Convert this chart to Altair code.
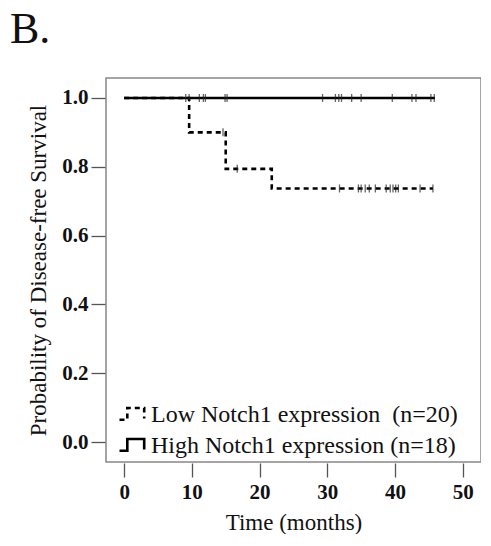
import altair as alt
import pandas as pd

# ---- data ----
panel_label = ["B."]
low_label = "Low Notch1 expression\u00a0 (n=20)"
high_label = "High Notch1 expression (n=18)"

# step curves (time in months, survival probability)
low_times = [0, 9.6, 15.0, 21.8, 45.6]
low_surv = [1.0, 0.9, 0.794, 0.737, 0.737]
high_times = [0, 45.9]
high_surv = [1.0, 1.0]

# censoring marks (time in months)
low_censor = [14.6, 16.7, 31.8, 34.6, 35.0, 35.6, 36.2, 37.1, 38.7, 39.3, 39.7, 40.1, 40.5, 43.7, 45.6]
high_censor = [9.1, 9.6, 11.1, 11.7, 12.0, 14.9, 15.2, 29.3, 31.2, 31.7, 32.1, 33.6, 35.0,
               39.6, 42.5, 43.1, 45.3, 45.8]

x_ticks = [0, 10, 20, 30, 40, 50]
y_ticks = [0.0, 0.2, 0.4, 0.6, 0.8, 1.0]


def level_at(times, surv, t):
    s = surv[0]
    for ti, si in zip(times, surv):
        if ti <= t:
            s = si
    return s


curve_rows = []
for t, s in zip(low_times, low_surv):
    curve_rows.append({"group": low_label, "time": t, "surv": s})
for t, s in zip(high_times, high_surv):
    curve_rows.append({"group": high_label, "time": t, "surv": s})
curves = pd.DataFrame(curve_rows)

cens_rows = []
for t in low_censor:
    cens_rows.append({"group": low_label, "time": t, "surv": level_at(low_times, low_surv, t)})
for t in high_censor:
    cens_rows.append({"group": high_label, "time": t, "surv": level_at(high_times, high_surv, t)})
cens = pd.DataFrame(cens_rows)

FONT = "Liberation Serif"

xscale = alt.Scale(domain=[-2.68, 52.7], nice=False, zero=False)
yscale = alt.Scale(domain=[-0.058, 1.058], nice=False, zero=False)

x_enc = alt.X("time:Q", scale=xscale,
              axis=alt.Axis(title="Time (months)", values=x_ticks, format="d",
                            domain=False, grid=False, tickSize=14, tickWidth=1.3,
                            tickColor="#555", offset=1, labelFont=FONT, labelFontSize=21,
                            labelFontWeight="bold", labelColor="#111", labelPadding=4,
                            titleFont=FONT, titleFontSize=23, titleFontWeight="normal",
                            titleColor="#111", titlePadding=9))
y_enc = alt.Y("surv:Q", scale=yscale,
              axis=alt.Axis(title="Probability of Disease-free Survival", values=y_ticks,
                            format=".1f", domain=False, grid=False, tickSize=14,
                            tickWidth=1.3, tickColor="#555", offset=1, labelFont=FONT,
                            labelFontSize=21, labelFontWeight="bold", labelColor="#111",
                            labelPadding=3, titleFont=FONT, titleFontSize=23,
                            titleFontWeight="normal", titleColor="#111", titlePadding=11))

lines = alt.Chart(curves).mark_line(interpolate="step-after", color="black",
                                    strokeWidth=2.6).encode(
    x=x_enc,
    y=y_enc,
    strokeDash=alt.StrokeDash(
        "group:N",
        scale=alt.Scale(domain=[low_label, high_label], range=[[5, 4], [1, 0]]),
        legend=alt.Legend(title=None, orient="none", legendX=12, legendY=322,
                          symbolType="M-1,0.4H-0.4V-0.5H0.9V0.3", symbolSize=676,
                          symbolStrokeWidth=2.6, symbolStrokeColor="black",
                          labelFont=FONT, labelFontSize=24, labelColor="#111",
                          labelLimit=0, rowPadding=4, labelOffset=4, padding=0),
    ),
    order="time:Q",
)

ticks = alt.Chart(cens).mark_tick(orient="vertical", color="#222", thickness=1.3,
                                  size=8).encode(
    x=alt.X("time:Q", scale=xscale),
    y=alt.Y("surv:Q", scale=yscale),
)

panel = alt.Chart(pd.DataFrame({"label": panel_label})).mark_text(
    font=FONT, fontSize=44, color="#111", align="left", baseline="top"
).encode(x=alt.value(-96), y=alt.value(-70), text="label:N")

chart = (
    alt.layer(lines, ticks, panel)
    .properties(
        width=375,
        height=384,
        padding={"left": 2, "top": 0, "right": 0, "bottom": 0},
        background="white",
    )
    .configure_view(stroke="#888", strokeWidth=1.5)
)

chart.save("out.html", embed_options={"renderer": "svg", "actions": False})
